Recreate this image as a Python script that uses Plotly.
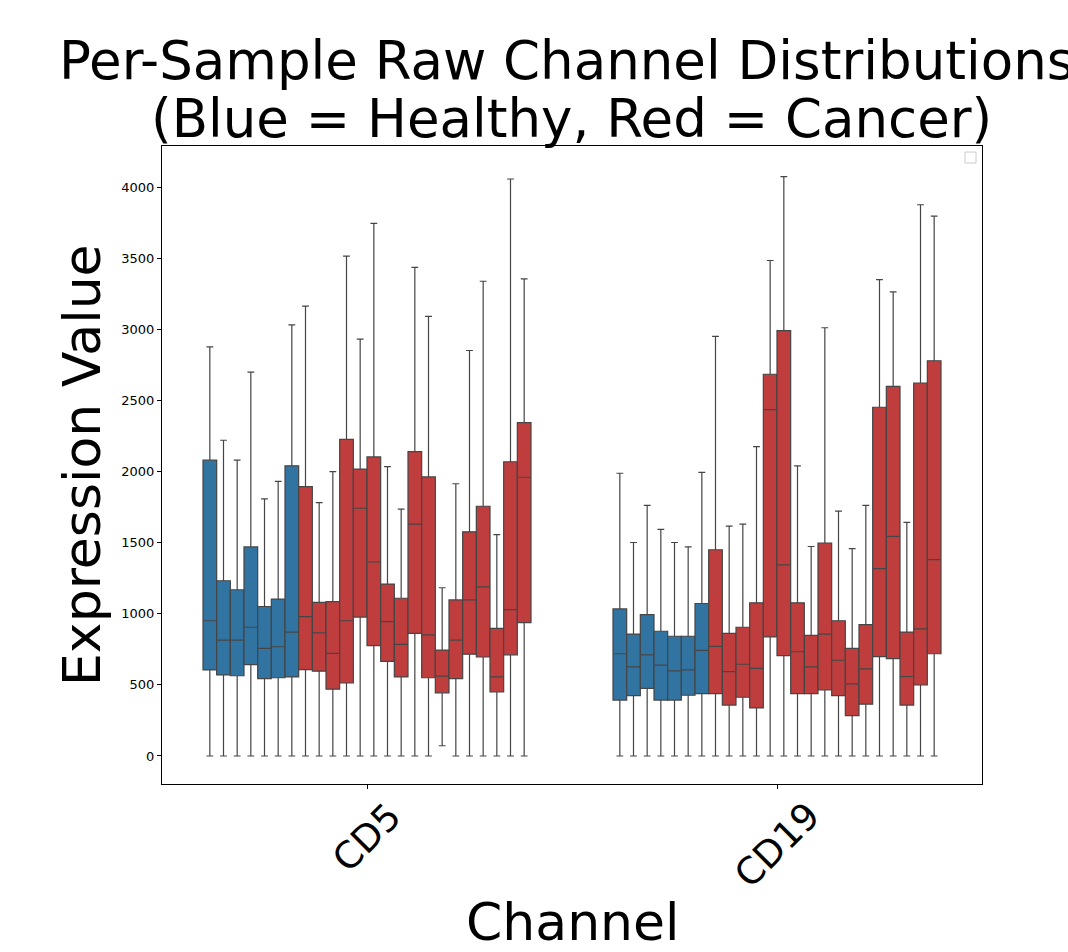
import plotly.graph_objects as go

channels = ["CD5", "CD19"]
group = ["Healthy"] * 7 + ["Cancer"] * 17

# CD5 per-sample stats
cd5_upper = [2877, 2220, 2080, 2699, 1808, 1931, 3031,
             3163, 1782, 2000, 3515, 2931, 3745, 2034, 1736, 3435, 3091,
             1183, 1914, 2851, 3338, 1556, 4057, 3355]
cd5_q3 = [2080, 1232, 1169, 1470, 1051, 1103, 2040,
          1894, 1080, 1086, 2226, 2017, 2103, 1209, 1109, 2140, 1962,
          745, 1097, 1576, 1756, 897, 2069, 2344]
cd5_med = [951, 814, 814, 905, 756, 768, 871,
           980, 865, 722, 951, 1742, 1364, 945, 785, 1630, 851,
           562, 814, 1097, 1189, 556, 1029, 1960]
cd5_q1 = [605, 570, 564, 642, 544, 550, 556,
          607, 596, 470, 513, 977, 776, 665, 556, 862, 550,
          444, 544, 716, 696, 450, 711, 937]
cd5_lower = [0, 0, 0, 0, 0, 0, 0,
             0, 0, 0, 0, 0, 0, 0, 0, 0, 0,
             72, 0, 0, 0, 0, 0, 0]

# CD19 per-sample stats
cd19_upper = [1988, 1501, 1762, 1593, 1501, 1470, 1994,
              2951, 1616, 1630, 2175, 3484, 4074, 2040, 1473, 3011, 1722,
              1458, 1762, 3349, 3263, 1642, 3876, 3796]
cd19_q3 = [1034, 857, 994, 877, 842, 842, 1072,
           1450, 862, 905, 1077, 2684, 2991, 1077, 848, 1496, 951,
           756, 923, 2452, 2599, 871, 2621, 2779]
cd19_med = [719, 627, 711, 639, 599, 605, 742,
            771, 593, 645, 616, 2435, 1344, 733, 627, 857, 673,
            507, 613, 1318, 1544, 559, 894, 1381]
cd19_q1 = [393, 424, 476, 393, 393, 427, 438,
           438, 358, 413, 338, 837, 705, 438, 438, 464, 424,
           284, 364, 699, 685, 358, 499, 719]
cd19_lower = [0] * 24

title_lines = ["Per-Sample Raw Channel Distributions",
               "(Blue = Healthy, Red = Cancer)"]

colors = {"Healthy": "#3274a1", "Cancer": "#c03d3e"}

fig = go.Figure()
for i in range(24):
    fig.add_trace(go.Box(
        x=channels,
        q1=[cd5_q1[i], cd19_q1[i]],
        median=[cd5_med[i], cd19_med[i]],
        q3=[cd5_q3[i], cd19_q3[i]],
        lowerfence=[cd5_lower[i], cd19_lower[i]],
        upperfence=[cd5_upper[i], cd19_upper[i]],
        name=f"S{i+1}",
        offsetgroup=str(i),
        fillcolor=colors[group[i]],
        line=dict(color="#454545", width=1.2),
        whiskerwidth=0.5,
        boxpoints=False,
        showlegend=False,
        hoverinfo="y",
    ))

W, H = 1068, 952
L, R, T, B = 162, 86, 146, 168
pw, ph = W - L - R, H - T - B


def px_x(x):
    return (x - L) / pw


def px_y(y):
    return 1 - (y - T) / ph


annotations = [
    dict(text=title_lines[0], xref="paper", yref="paper",
         x=px_x(566), y=px_y(60), xanchor="center", yanchor="middle",
         showarrow=False, font=dict(size=53)),
    dict(text=title_lines[1], xref="paper", yref="paper",
         x=px_x(571), y=px_y(118), xanchor="center", yanchor="middle",
         showarrow=False, font=dict(size=53)),
    dict(text="Expression Value", xref="paper", yref="paper",
         x=px_x(82), y=0.5, xanchor="center", yanchor="middle",
         textangle=-90, showarrow=False, font=dict(size=52)),
    dict(text="Channel", xref="paper", yref="paper",
         x=0.5, y=px_y(922), xanchor="center", yanchor="middle",
         showarrow=False, font=dict(size=52)),
]
for ch in channels:
    annotations.append(dict(
        text=ch, xref="x", yref="paper", x=ch, y=px_y(792),
        xanchor="center", yanchor="top", textangle=-45,
        showarrow=False, font=dict(size=37)))

fig.update_layout(
    width=W, height=H,
    margin=dict(l=L, r=R, t=T, b=B),
    paper_bgcolor="white", plot_bgcolor="white",
    boxmode="group", boxgap=0.2, boxgroupgap=0,
    font=dict(family="DejaVu Sans", color="black"),
    xaxis=dict(
        range=[-0.5, 1.5], type="category",
        showline=True, linecolor="black", linewidth=1, mirror=True,
        ticks="outside", ticklen=4, tickcolor="black",
        showticklabels=False,
        showgrid=False, zeroline=False,
    ),
    yaxis=dict(
        range=[-197, 4289],
        tickvals=[0, 500, 1000, 1500, 2000, 2500, 3000, 3500, 4000],
        showline=True, linecolor="black", linewidth=1, mirror=True,
        ticks="outside", ticklen=4, tickcolor="black",
        tickfont=dict(size=13),
        showgrid=False, zeroline=False,
    ),
    annotations=annotations,
    shapes=[
        dict(type="rect", xref="paper", yref="paper",
             x0=px_x(965), x1=px_x(976),
             y0=px_y(163), y1=px_y(152),
             line=dict(color="#cccccc", width=1), fillcolor="white"),
    ],
)

fig.write_html("out.html")
